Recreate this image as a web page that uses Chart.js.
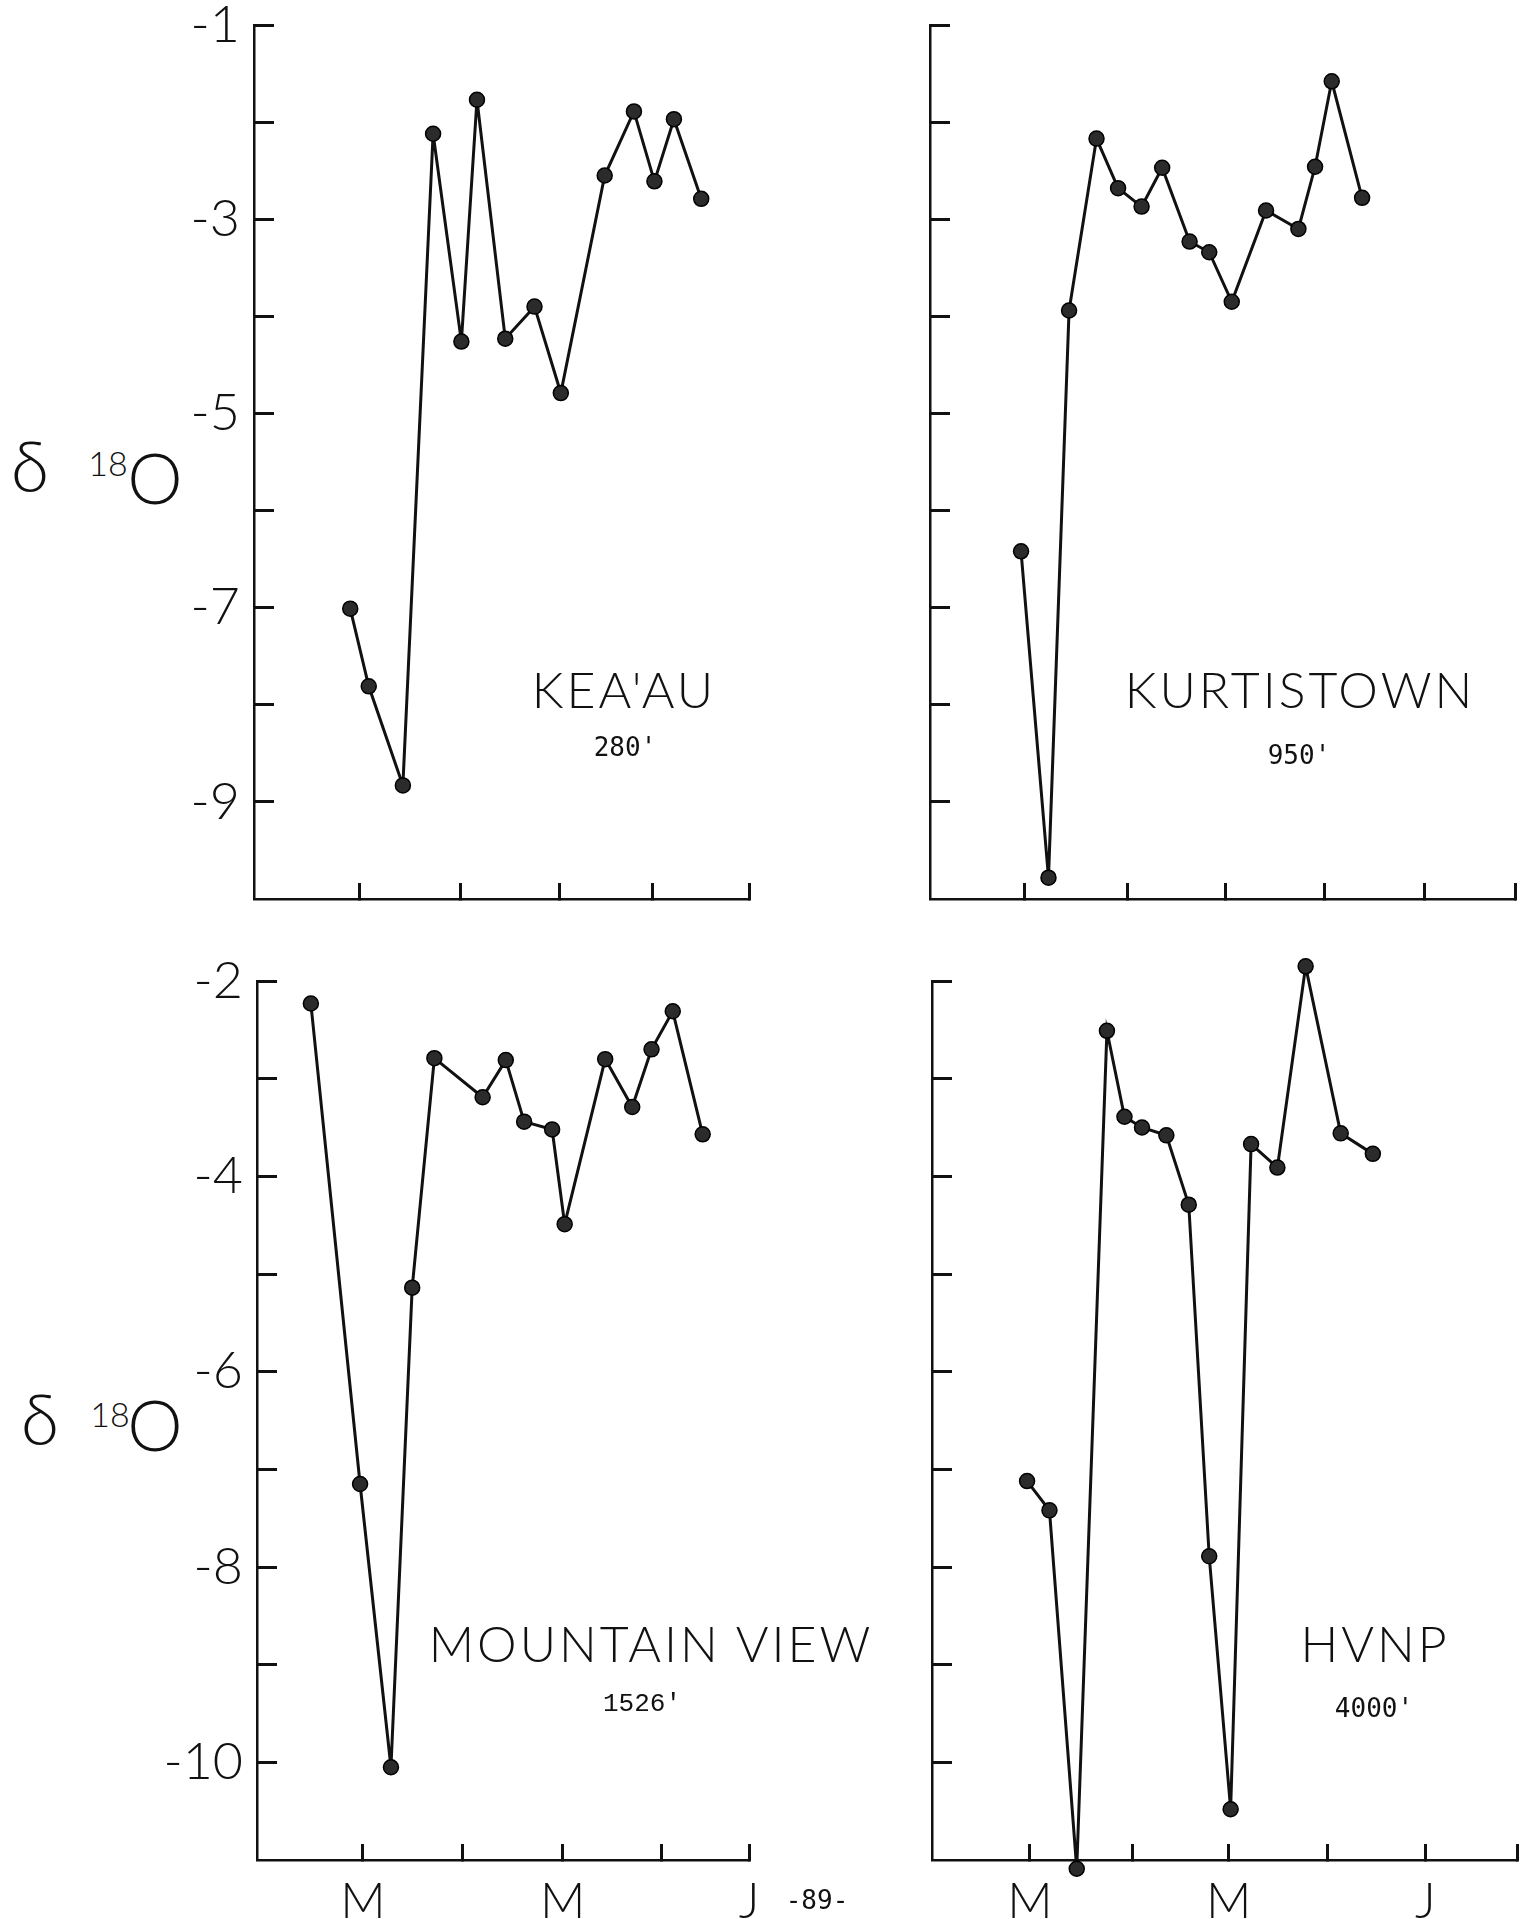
<!DOCTYPE html>
<html>
<head>
<meta charset="utf-8">
<script src="https://cdn.jsdelivr.net/npm/chart.js@4.4.0/dist/chart.umd.min.js"></script>
<style>
html, body { margin: 0; padding: 0; background: #fff; }
body { width: 1528px; height: 1919px; position: relative; overflow: hidden; }
canvas { position: absolute; }
.lbl { position: absolute; transform: translate(-50%, -50%); white-space: nowrap; color: #111; line-height: 1; }
.name { font-family: Lato, sans-serif; font-weight: 300; font-size: 50px; letter-spacing: 3px; }
.elev { font-family: "DejaVu Sans Mono", monospace; font-size: 26px; }
.sym { font-family: Lato, sans-serif; font-weight: 300; font-size: 70px; }
.sup { font-family: Lato, sans-serif; font-weight: 300; font-size: 34px; }
</style>
</head>
<body>
<canvas id="keaau"></canvas>
<canvas id="kurtistown"></canvas>
<canvas id="mtview"></canvas>
<canvas id="hvnp"></canvas>

<div class="lbl sym" style="left:30px; top:465px">δ</div>
<div class="lbl sup" style="left:108px; top:463px">18</div>
<div class="lbl sym" style="left:155px; top:477px">O</div>
<div class="lbl sym" style="left:40px; top:1418px">δ</div>
<div class="lbl sup" style="left:110px; top:1414px">18</div>
<div class="lbl sym" style="left:155px; top:1424px">O</div>

<div class="lbl name" style="left:624px; top:689px">KEA'AU</div>
<div class="lbl elev" style="left:625px; top:747px">280'</div>
<div class="lbl name" style="left:1300px; top:689px">KURTISTOWN</div>
<div class="lbl elev" style="left:1299px; top:755px">950'</div>
<div class="lbl name" style="left:651px; top:1643px">MOUNTAIN VIEW</div>
<div class="lbl elev" style="left:642px; top:1704px; font-family:'Liberation Mono', monospace">1526'</div>
<div class="lbl name" style="left:1375px; top:1643px">HVNP</div>
<div class="lbl elev" style="left:1374px; top:1708px">4000'</div>
<div class="lbl elev" style="left:817px; top:1900px; font-size:26px">-89-</div>

<script>
// months counted from March (0 = M, 2 = M, 4 = J); hand drawn ticks are a bit uneven
var keaauTicks = [0, 1.04, 2.06, 3.01, 4];
var kurtTicks = [0, 1.05, 2.05, 3.06, 4.08, 5];
var mtviewTicks = [0, 1.03, 2.07, 3.09, 4];
var hvnpTicks = [0, 1.05, 2.04, 3.05, 4.06, 5];
var monthLabels = ['M', '', 'M', '', 'J', ''];

var topYTicks = [-1, -2, -3, -4, -5, -6, -7, -8, -9];
var topYLabels = ['-1', '', '-3', '', '-5', '', '-7', '', '-9'];
var bottomYTicks = [-2, -3, -4, -5, -6, -7, -8, -9, -10];
var bottomYLabels = ['-2', '', '-4', '', '-6', '', '-8', '', '-10'];

// KEA'AU 280'
var keaauMonth = [-0.09, 0.10, 0.45, 0.76, 1.05, 1.21, 1.50, 1.80, 2.07, 2.52, 2.82, 3.03, 3.23, 3.51];
var keaauD18O = [-7.01, -7.81, -8.83, -2.12, -4.26, -1.77, -4.23, -3.90, -4.79, -2.55, -1.89, -2.61, -1.97, -2.79];

// KURTISTOWN 950'
var kurtMonth = [-0.04, 0.24, 0.45, 0.73, 0.95, 1.19, 1.40, 1.68, 1.88, 2.11, 2.46, 2.79, 2.96, 3.13, 3.44];
var kurtD18O = [-6.42, -9.78, -3.94, -2.17, -2.68, -2.87, -2.47, -3.23, -3.34, -3.85, -2.91, -3.10, -2.46, -1.58, -2.78];

// MOUNTAIN VIEW 1526'
var mtviewMonth = [-0.54, -0.03, 0.29, 0.51, 0.74, 1.24, 1.48, 1.67, 1.96, 2.09, 2.51, 2.79, 2.99, 3.21, 3.52];
var mtviewD18O = [-2.23, -7.15, -10.05, -5.14, -2.79, -3.19, -2.81, -3.44, -3.52, -4.49, -2.80, -3.29, -2.70, -2.31, -3.57];

// HVNP 4000'
var hvnpMonth = [-0.03, 0.20, 0.48, 0.79, 0.97, 1.15, 1.40, 1.63, 1.84, 2.06, 2.27, 2.54, 2.83, 3.19, 3.52];
var hvnpD18O = [-7.12, -7.42, -11.09, -2.51, -3.39, -3.50, -3.58, -4.29, -7.89, -10.48, -3.67, -3.91, -1.85, -3.56, -3.77];

var ink = '#111';
var thin = {family: 'Lato', weight: 300, size: 52};

// area = where the plot box sits on the page
function panel(id, area, o) {
  var wy = o.yLabels ? 110 : 10;
  var hx = o.xLabels ? 70 : 10;
  var pad = {top: 80, right: 40, bottom: 70, left: 0};
  var cv = document.getElementById(id);
  var w = wy + area.r - area.l + pad.right;
  var h = pad.top + area.b - area.t + hx + pad.bottom;
  cv.width = w; cv.height = h;
  cv.style.width = w + 'px'; cv.style.height = h + 'px';
  cv.style.left = (area.l - wy) + 'px';
  cv.style.top = (area.t - pad.top) + 'px';

  new Chart(cv, {
    type: 'line',
    data: {
      datasets: [{
        data: o.x.map(function(x, i) { return {x: x, y: o.y[i]}; }),
        borderColor: ink,
        borderWidth: 3,
        pointRadius: 7.5,
        pointHoverRadius: 30, // keeps markers just past the axes from being skipped
        pointBackgroundColor: '#2b2b2b',
        pointBorderColor: '#000',
        pointBorderWidth: 1.5,
        tension: 0,
        clip: false
      }]
    },
    options: {
      responsive: false,
      animation: false,
      devicePixelRatio: 1,
      events: [],
      layout: {padding: pad, autoPadding: false},
      plugins: {legend: {display: false}, tooltip: {enabled: false}},
      scales: {
        x: {
          type: 'linear',
          min: o.xMin, max: o.xMax,
          afterBuildTicks: function(s) { s.ticks = o.xTicks.map(function(v) { return {value: v}; }); },
          afterFit: function(s) { s.height = hx; },
          grid: {drawOnChartArea: false, tickLength: -16, tickColor: ink, tickWidth: 3},
          border: {color: ink, width: 2.5},
          ticks: {
            display: !!o.xLabels, padding: 28, autoSkip: false, maxRotation: 0,
            font: {family: 'Lato', weight: 300, size: 50}, color: ink,
            callback: function(v, i) { return o.xLabels ? o.xLabels[i] : ''; }
          }
        },
        y: {
          min: o.yMin, max: o.yMax,
          afterBuildTicks: function(s) { s.ticks = o.yTicks.map(function(v) { return {value: v}; }); },
          afterFit: function(s) { s.width = wy; },
          grid: {drawOnChartArea: false, tickLength: -20, tickColor: ink, tickWidth: 3},
          border: {color: ink, width: 2.5},
          ticks: {
            display: !!o.yLabels, padding: 34, autoSkip: false,
            font: thin, color: ink,
            callback: function(v, i) { return o.yLabels ? o.yLabels[i] : ''; }
          }
        }
      }
    }
  });
}

panel('keaau', {l: 254, r: 749, t: 25, b: 899}, {
  x: keaauMonth, y: keaauD18O, xMin: -1.077, xMax: 4, xTicks: keaauTicks,
  yMin: -10, yMax: -1, yTicks: topYTicks, yLabels: topYLabels
});
panel('kurtistown', {l: 930, r: 1515, t: 25, b: 899}, {
  x: kurtMonth, y: kurtD18O, xMin: -0.969, xMax: 5, xTicks: kurtTicks,
  yMin: -10, yMax: -1, yTicks: topYTicks
});
panel('mtview', {l: 257, r: 749, t: 981, b: 1860}, {
  x: mtviewMonth, y: mtviewD18O, xMin: -1.098, xMax: 4, xTicks: mtviewTicks,
  xLabels: monthLabels.slice(0, 5),
  yMin: -11, yMax: -2, yTicks: bottomYTicks, yLabels: bottomYLabels
});
panel('hvnp', {l: 932, r: 1517, t: 981, b: 1860}, {
  x: hvnpMonth, y: hvnpD18O, xMin: -1.006, xMax: 5, xTicks: hvnpTicks,
  xLabels: monthLabels,
  yMin: -11, yMax: -2, yTicks: bottomYTicks
});
</script>
</body>
</html>
